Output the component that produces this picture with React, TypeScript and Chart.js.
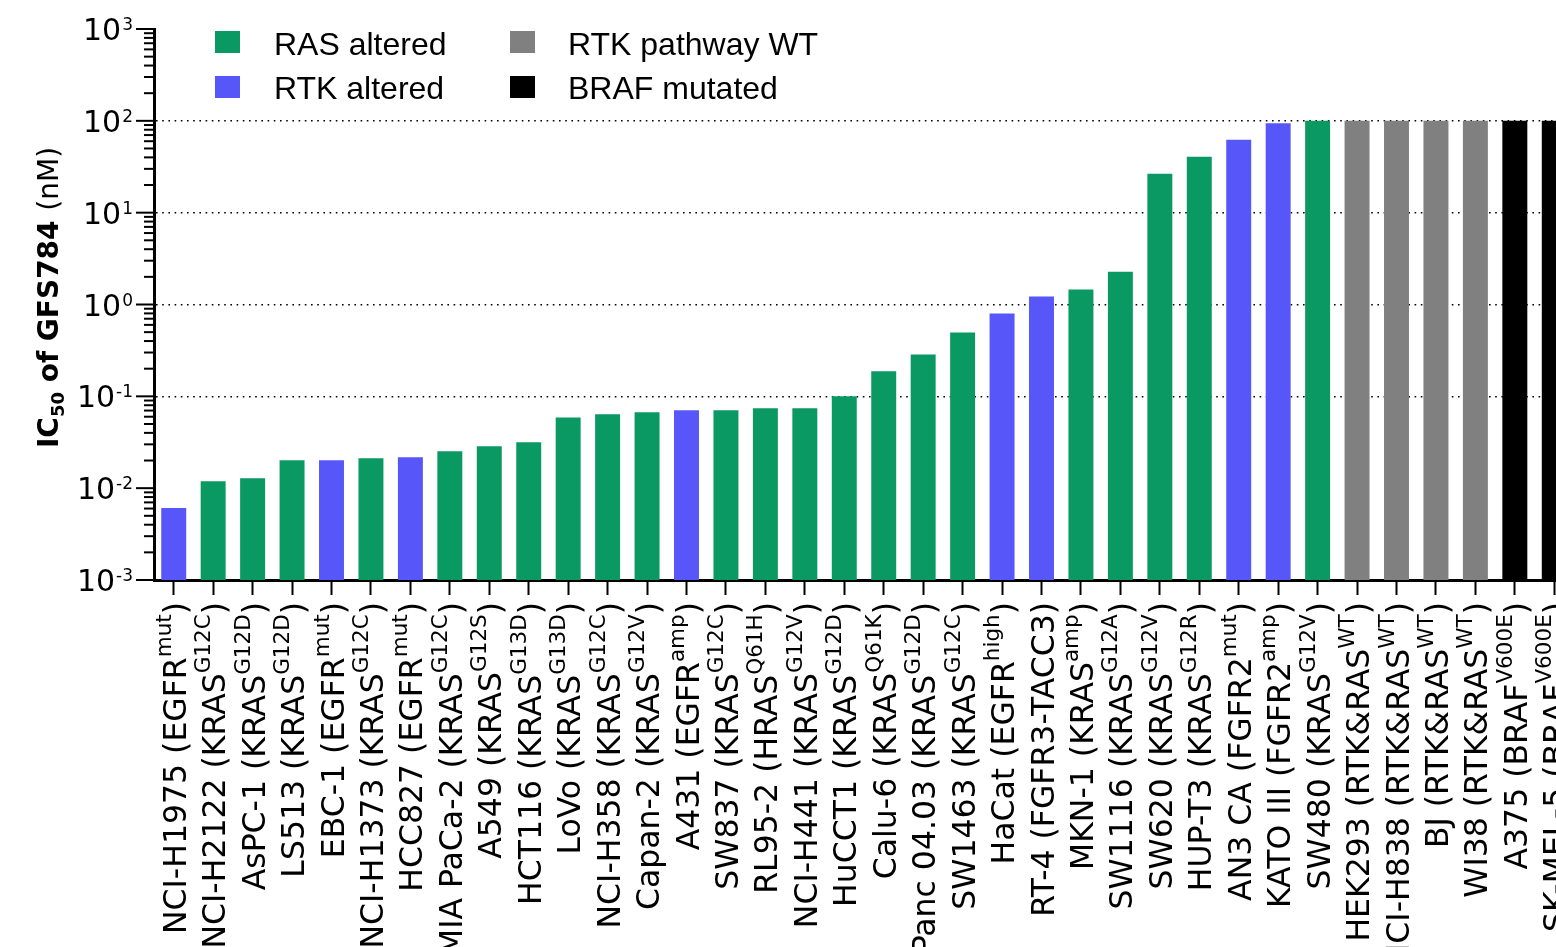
import React, { useEffect, useRef } from "react";
import { Chart, registerables } from "chart.js";

Chart.register(...registerables);

// ---------------- data ----------------
const cellLines = [
  "NCI-H1975", "NCI-H2122", "AsPC-1", "LS513", "EBC-1", "NCI-H1373", "HCC827",
  "MIA PaCa-2", "A549", "HCT116", "LoVo", "NCI-H358", "Capan-2", "A431", "SW837",
  "RL95-2", "NCI-H441", "HuCCT1", "Calu-6", "Panc 04.03", "SW1463", "HaCat", "RT-4",
  "MKN-1", "SW1116", "SW620", "HUP-T3", "AN3 CA", "KATO III", "SW480", "HEK293",
  "NCI-H838", "BJ", "WI38", "A375", "SK-MEL-5",
];
const genes = [
  "EGFR", "KRAS", "KRAS", "KRAS", "EGFR", "KRAS", "EGFR",
  "KRAS", "KRAS", "KRAS", "KRAS", "KRAS", "KRAS", "EGFR", "KRAS",
  "HRAS", "KRAS", "KRAS", "KRAS", "KRAS", "KRAS", "EGFR", "FGFR3-TACC3",
  "KRAS", "KRAS", "KRAS", "KRAS", "FGFR2", "FGFR2", "KRAS", "RTK&RAS",
  "RTK&RAS", "RTK&RAS", "RTK&RAS", "BRAF", "BRAF",
];
const superscripts = [
  "mut", "G12C", "G12D", "G12D", "mut", "G12C", "mut",
  "G12C", "G12S", "G13D", "G13D", "G12C", "G12V", "amp", "G12C",
  "Q61H", "G12V", "G12D", "Q61K", "G12D", "G12C", "high", "",
  "amp", "G12A", "G12V", "G12R", "mut", "amp", "G12V", "WT",
  "WT", "WT", "WT", "V600E", "V600E",
];
const groups = [
  "RTK", "RAS", "RAS", "RAS", "RTK", "RAS", "RTK",
  "RAS", "RAS", "RAS", "RAS", "RAS", "RAS", "RTK", "RAS",
  "RAS", "RAS", "RAS", "RAS", "RAS", "RAS", "RTK", "RTK",
  "RAS", "RAS", "RAS", "RAS", "RTK", "RTK", "RAS", "WT",
  "WT", "WT", "WT", "BRAF", "BRAF",
];
const ic50Values = [
  0.0061, 0.0119, 0.0128, 0.0201, 0.0201, 0.0212, 0.0217,
  0.0253, 0.0286, 0.0316, 0.059, 0.0637, 0.067, 0.0704, 0.0704,
  0.0741, 0.0741, 0.1, 0.187, 0.286, 0.496, 0.799, 1.22,
  1.46, 2.28, 26.5, 40.6, 62.1, 94, 100, 100,
  100, 100, 100, 100, 100,
];

const groupKeys = ["RAS", "RTK", "WT", "BRAF"];
const groupNames = ["RAS altered", "RTK altered", "RTK pathway WT", "BRAF mutated"];
const groupColors = ["#0B9963", "#5757F9", "#808080", "#000000"];

const yDecades = [0.001, 0.01, 0.1, 1, 10, 100, 1000];
const yExponents = ["-3", "-2", "-1", "0", "1", "2", "3"];
const dottedGridValues = [0.1, 1, 10, 100];
const minorMultipliers = [2, 3, 4, 5, 6, 7, 8, 9];

// ---------------- layout ----------------
const CANVAS_W = 1600;
const CANVAS_H = 1000;
const AREA_LEFT = 154;
const AREA_RIGHT = 1574;
const AREA_TOP = 29;
const AREA_BOTTOM = 580;

const AXIS_FONT = '"DejaVu Sans"';
const LEGEND_FONT = '"Liberation Sans", Arial';

function isDecadeMatch(v: number, list: number[]) {
  return list.some((d) => Math.abs(Math.log10(v) - Math.log10(d)) < 1e-6);
}

const decorPlugin = {
  id: "decor",
  afterDraw(chart: any) {
    const ctx: CanvasRenderingContext2D = chart.ctx;
    const { left, top, bottom } = chart.chartArea;
    const xs = chart.scales.x;
    const ys = chart.scales.y;
    ctx.save();
    ctx.fillStyle = "#000";
    ctx.strokeStyle = "#000";

    // y ticks (major + minor, outward)
    ctx.lineWidth = 2;
    yDecades.forEach((v, d) => {
      const py = ys.getPixelForValue(v);
      ctx.beginPath();
      ctx.moveTo(left - 18, py);
      ctx.lineTo(left, py);
      ctx.stroke();
      if (d < yDecades.length - 1) {
        minorMultipliers.forEach((m) => {
          const pm = ys.getPixelForValue(v * m);
          ctx.beginPath();
          ctx.moveTo(left - 10, pm);
          ctx.lineTo(left, pm);
          ctx.stroke();
        });
      }
    });

    // y tick labels 10^n
    ctx.textBaseline = "alphabetic";
    ctx.textAlign = "right";
    yDecades.forEach((v, d) => {
      const py = ys.getPixelForValue(v);
      const exp = yExponents[d];
      ctx.font = `17px ${AXIS_FONT}`;
      const sw = ctx.measureText(exp).width;
      const rightX = left - 21;
      ctx.fillText(exp, rightX, py + 1);
      ctx.font = `30px ${AXIS_FONT}`;
      ctx.fillText("10", rightX - sw - 1, py + 11);
    });

    // y title (rotated)
    const titleParts = [
      { text: "IC", font: `bold 28px ${AXIS_FONT}`, dv: 0 },
      { text: "50", font: `bold 18px ${AXIS_FONT}`, dv: 6 },
      { text: " of GFS784 ", font: `bold 28px ${AXIS_FONT}`, dv: 0 },
      { text: "(nM)", font: `28px ${AXIS_FONT}`, dv: 0 },
    ];
    ctx.save();
    ctx.translate(58, (top + bottom) / 2 - 7);
    ctx.rotate(-Math.PI / 2);
    ctx.textAlign = "left";
    let total = 0;
    const widths = titleParts.map((p) => {
      ctx.font = p.font;
      const w = ctx.measureText(p.text).width;
      total += w;
      return w;
    });
    let u = -total / 2;
    titleParts.forEach((p, i) => {
      ctx.font = p.font;
      ctx.fillText(p.text, u, p.dv);
      u += widths[i];
    });
    ctx.restore();

    // x labels (rotated, right aligned under ticks)
    const mainFont = `31.5px ${AXIS_FONT}`;
    const supFont = `21.5px ${AXIS_FONT}`;
    cellLines.forEach((name, i) => {
      const px = xs.getPixelForValue(i);
      const parts = [
        { text: `${name} (${genes[i]}`, font: mainFont, dv: 12 },
        { text: superscripts[i], font: supFont, dv: -3 },
        { text: ")", font: mainFont, dv: 12 },
      ];
      ctx.save();
      ctx.translate(px, 602);
      ctx.rotate(-Math.PI / 2);
      ctx.textAlign = "left";
      let tw = 0;
      const ws = parts.map((p) => {
        ctx.font = p.font;
        const w = p.text ? ctx.measureText(p.text).width : 0;
        tw += w;
        return w;
      });
      let uu = -tw;
      parts.forEach((p, k) => {
        if (p.text) {
          ctx.font = p.font;
          ctx.fillText(p.text, uu, p.dv);
        }
        uu += ws[k];
      });
      ctx.restore();
    });

    // legend (2 x 2)
    const legendSlots = [
      { sx: 215, sy: 31, tx: 274, ty: 55 },
      { sx: 215, sy: 76, tx: 274, ty: 99 },
      { sx: 510, sy: 31, tx: 568, ty: 55 },
      { sx: 510, sy: 76, tx: 568, ty: 99 },
    ];
    ctx.textAlign = "left";
    ctx.font = `32px ${LEGEND_FONT}`;
    groupNames.forEach((g, i) => {
      const s = legendSlots[i];
      ctx.fillStyle = groupColors[i];
      ctx.fillRect(s.sx, s.sy, 25, 22);
      ctx.fillStyle = "#000";
      ctx.fillText(g, s.tx, s.ty);
    });

    ctx.restore();
  },
};

export default function App() {
  const canvasRef = useRef<HTMLCanvasElement | null>(null);

  useEffect(() => {
    document.body.style.margin = "0";
    document.body.style.overflow = "hidden";
    const canvas = canvasRef.current;
    if (!canvas) return;
    const colors = groups.map((g) => groupColors[groupKeys.indexOf(g)]);
    const chart = new Chart(canvas, {
      type: "bar",
      data: {
        labels: cellLines,
        datasets: [
          {
            data: ic50Values,
            backgroundColor: colors,
            borderWidth: 0,
            barPercentage: 0.633,
            categoryPercentage: 1,
          },
        ],
      },
      options: {
        responsive: false,
        maintainAspectRatio: false,
        animation: false,
        devicePixelRatio: 1,
        layout: {
          padding: {
            left: AREA_LEFT,
            right: CANVAS_W - AREA_RIGHT,
            top: AREA_TOP,
            bottom: CANVAS_H - AREA_BOTTOM,
          },
        },
        plugins: {
          legend: { display: false },
          tooltip: { enabled: false },
        },
        scales: {
          x: {
            type: "category",
            offset: true,
            z: 1,
            grid: {
              display: true,
              drawOnChartArea: false,
              drawTicks: true,
              tickLength: 15,
              tickWidth: 2,
              tickColor: "#000",
              offset: false,
            },
            border: { display: true, width: 3, color: "#000" },
            ticks: { display: false },
            afterFit: (s: any) => {
              s.height = 0;
            },
          },
          y: {
            type: "logarithmic",
            min: 0.001,
            max: 1000,
            z: 1,
            grid: {
              display: true,
              drawTicks: false,
              lineWidth: 1.6,
              color: (c: any) =>
                c.tick && isDecadeMatch(c.tick.value, dottedGridValues) ? "#000" : "rgba(0,0,0,0)",
            },
            border: { display: true, width: 3, color: "#000", dash: [1.6, 4.6] },
            ticks: { display: false },
            afterBuildTicks: (s: any) => {
              const vals: number[] = [];
              yDecades.forEach((v, d) => {
                vals.push(v);
                if (d < yDecades.length - 1) minorMultipliers.forEach((m) => vals.push(v * m));
              });
              s.ticks = vals.map((v) => ({ value: v }));
            },
            afterFit: (s: any) => {
              s.width = 0;
            },
          },
        },
      } as any,
      plugins: [decorPlugin],
    });
    let alive = true;
    if ((document as any).fonts && (document as any).fonts.ready) {
      (document as any).fonts.ready.then(() => {
        if (alive) chart.draw();
      });
    }
    return () => {
      alive = false;
      chart.destroy();
    };
  }, []);

  return (
    <div
      style={{
        position: "absolute",
        left: 0,
        top: 0,
        width: 1556,
        height: 947,
        overflow: "hidden",
        background: "#fff",
      }}
    >
      <canvas
        ref={canvasRef}
        width={CANVAS_W}
        height={CANVAS_H}
        style={{ display: "block", width: CANVAS_W, height: CANVAS_H }}
      />
    </div>
  );
}
